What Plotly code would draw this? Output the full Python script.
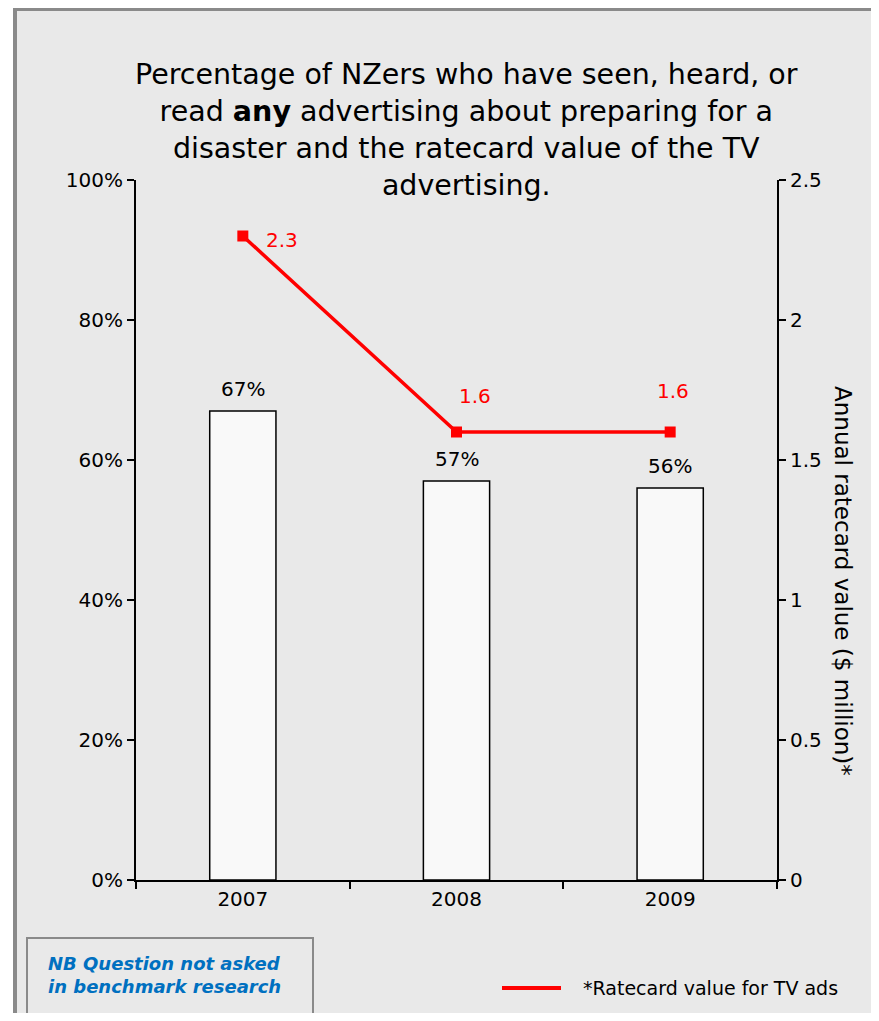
import plotly.graph_objects as go

years = ["2007", "2008", "2009"]
pct_seen = [0.67, 0.57, 0.56]
pct_labels = ["67%", "57%", "56%"]
ratecard = [2.3, 1.6, 1.6]
ratecard_labels = ["2.3", "1.6", "1.6"]
rate_label_shift = [(39, -4), (18, 36), (3, 41)]

# Page has an 8px body margin; reference pixel coords are shifted by OFF.
OFF = 8
W, H = 879 - 2 * OFF, 1021 - 2 * OFF
L, R, T, B = 136, 777, 180, 880  # plot area in reference pixel coords
FONT = "DejaVu Sans"
BG = "#e9e9e9"
FS = 20


def px(x):
    return (x - L) / (R - L)


def py(y):
    return (B - y) / (B - T)


fig = go.Figure()
fig.add_trace(go.Bar(
    x=years, y=pct_seen, width=0.31,
    marker=dict(color="#f9f9f9", line=dict(color="black", width=1.5)),
    showlegend=False, yaxis="y", hoverinfo="skip",
))
fig.add_trace(go.Scatter(
    x=years, y=ratecard, mode="lines+markers", yaxis="y2",
    line=dict(color="#ff0000", width=3.5),
    marker=dict(symbol="square", size=11, color="#ff0000"),
    showlegend=False,
))

annotations = []
for i, (v, lab) in enumerate(zip(pct_seen, pct_labels)):
    annotations.append(dict(x=i, y=v, xref="x", yref="y", text=lab, showarrow=False,
                            xanchor="center", yanchor="middle",
                            yshift=22, font=dict(family=FONT, size=FS, color="black")))
for i, (v, lab, (dx, dy)) in enumerate(zip(ratecard, ratecard_labels, rate_label_shift)):
    annotations.append(dict(x=i, y=v, xref="x", yref="y2", text=lab, showarrow=False,
                            xanchor="center", yanchor="middle",
                            xshift=dx, yshift=dy, font=dict(family=FONT, size=FS, color="#ff0000")))

annotations.append(dict(
    x=px(466), y=py(56), xref="paper", yref="paper", yanchor="top", xanchor="center",
    text="Percentage of NZers who have seen, heard, or<br>read <b>any</b> advertising about preparing for a<br>"
         "disaster and the ratecard value of the TV<br>advertising.",
    showarrow=False, align="center", font=dict(family=FONT, size=28.5, color="black"),
))
annotations.append(dict(
    x=px(843), y=py(581), xref="paper", yref="paper", textangle=90,
    xanchor="center", yanchor="middle",
    text="Annual ratecard value ($ million)*", showarrow=False,
    font=dict(family=FONT, size=23, color="black"),
))
annotations.append(dict(
    x=px(581), y=py(988), xref="paper", yref="paper", xanchor="left", yanchor="middle",
    text="*Ratecard value for TV ads", showarrow=False,
    font=dict(family=FONT, size=19, color="black"),
))
annotations.append(dict(
    x=px(46), y=py(975), xref="paper", yref="paper", xanchor="left", yanchor="middle", align="left",
    text="<b><i>NB Question not asked<br>in benchmark research</i></b>", showarrow=False,
    font=dict(family=FONT, size=18, color="#0070c0"),
))

shapes = [
    dict(type="rect", xref="paper", yref="paper", x0=px(15), x1=px(905), y0=py(9), y1=py(1040),
         line=dict(color="#8a8a8a", width=4), fillcolor=BG, layer="below"),
    dict(type="rect", xref="paper", yref="paper", x0=px(27), x1=px(313), y0=py(938), y1=py(1014),
         line=dict(color="#8a8a8a", width=2), fillcolor=BG),
    dict(type="line", xref="paper", yref="paper", x0=px(502), x1=px(561), y0=py(988), y1=py(988),
         line=dict(color="#ff0000", width=4)),
]

axis_common = dict(ticks="outside", ticklen=7, tickwidth=1.5, tickcolor="black", showline=True,
                   linecolor="black", linewidth=2, showgrid=False, zeroline=False,
                   tickfont=dict(family=FONT, size=FS, color="black"))

fig.update_layout(
    width=W, height=H,
    margin=dict(l=L - OFF, r=W - (R - OFF), t=T - OFF, b=H - (B - OFF), pad=0),
    paper_bgcolor="white", plot_bgcolor="rgba(0,0,0,0)",
    font=dict(family=FONT, size=FS, color="black"),
    xaxis=dict(type="category", range=[-0.5, 2.5], tickson="boundaries", **axis_common),
    yaxis=dict(range=[0, 1], dtick=0.2, tickformat=".0%", **axis_common),
    yaxis2=dict(range=[0, 2.5], dtick=0.5, overlaying="y", side="right", **axis_common),
    annotations=annotations, shapes=shapes,
)

fig.write_html("out.html")
